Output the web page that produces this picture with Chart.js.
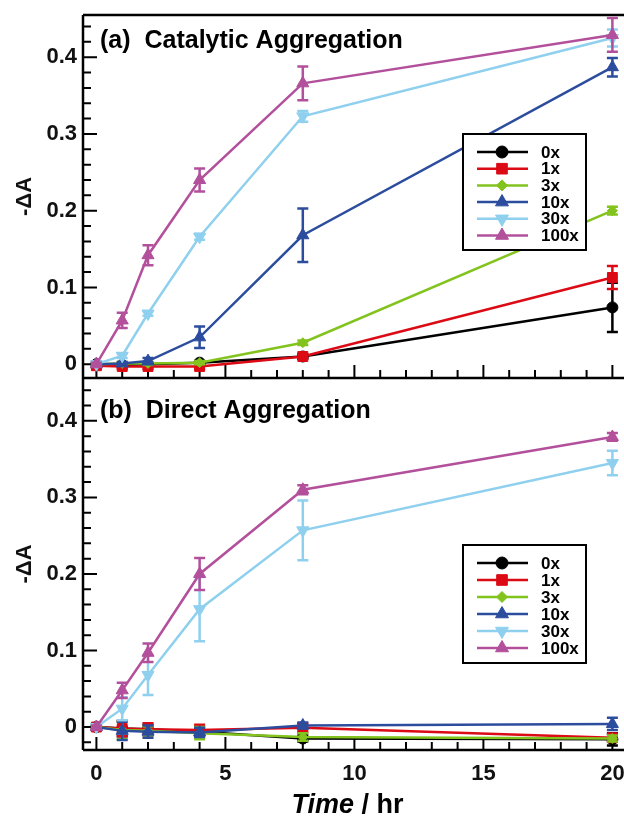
<!DOCTYPE html>
<html>
<head>
<meta charset="utf-8">
<script src="https://cdn.jsdelivr.net/npm/chart.js@4.4.0/dist/chart.umd.min.js"></script>
<style>
    html, body { margin: 0; padding: 0; background: #fff; overflow: hidden; }
    #wrap { position: relative; width: 624px; height: 817px; }
    #chartTop { position: absolute; left: 0; top: 0; }
    #chartBottom { position: absolute; left: 0; top: 378px; }
</style>
</head>
<body>
<div id="wrap">
    <canvas id="chartTop" width="624" height="380"></canvas>
    <canvas id="chartBottom" width="624" height="439"></canvas>
</div>
<script>
var hours = [0, 1, 2, 4, 8, 20];
var seriesNames = ['0x', '1x', '3x', '10x', '30x', '100x'];
var seriesColors = ['#000000', '#dc0a14', '#82c31e', '#2c4c9e', '#8fd0ee', '#b3509c'];
var seriesMarkers = ['circle', 'rect', 'rectRot', 'triangle', 'triangle', 'triangle'];
var markerRotation = [0, 0, 0, 0, 180, 0];
var markerRadius = [5.5, 7, 5, 7, 7, 7];

// (a) catalytic aggregation, -dA and error
var catalytic0x = [0, -0.001, 0, 0.002, 0.010, 0.074];
var catalytic1x = [-0.002, -0.003, -0.003, -0.003, 0.010, 0.113];
var catalytic3x = [0, 0.001, 0.001, 0.002, 0.028, 0.200];
var catalytic10x = [0, 0.001, 0.004, 0.035, 0.168, 0.387];
var catalytic30x = [0, 0.011, 0.066, 0.166, 0.323, 0.425];
var catalytic100x = [0, 0.057, 0.142, 0.240, 0.366, 0.429];

var catalyticErr0x = [0.002, 0.002, 0.002, 0.002, 0.003, 0.032];
var catalyticErr1x = [0.003, 0.003, 0.003, 0.003, 0.003, 0.015];
var catalyticErr3x = [0.002, 0.002, 0.002, 0.002, 0.003, 0.005];
var catalyticErr10x = [0.002, 0.002, 0.004, 0.014, 0.035, 0.012];
var catalyticErr30x = [0.002, 0.003, 0.003, 0.004, 0.007, 0.011];
var catalyticErr100x = [0.002, 0.010, 0.013, 0.015, 0.022, 0.022];

// (b) direct aggregation
var direct0x = [0, -0.002, -0.003, -0.006, -0.015, -0.016];
var direct1x = [0, -0.002, -0.003, -0.004, -0.001, -0.014];
var direct3x = [0, -0.004, -0.005, -0.008, -0.013, -0.015];
var direct10x = [0, -0.005, -0.006, -0.007, 0.002, 0.004];
var direct30x = [0, 0.024, 0.068, 0.154, 0.257, 0.345];
var direct100x = [0, 0.048, 0.097, 0.200, 0.310, 0.379];

var directErr0x = [0.002, 0.010, 0.006, 0.006, 0.004, 0.008];
var directErr1x = [0.003, 0.010, 0.008, 0.007, 0.006, 0.005];
var directErr3x = [0.002, 0.012, 0.006, 0.008, 0.005, 0.004];
var directErr10x = [0.002, 0.012, 0.008, 0.006, 0.004, 0.008];
var directErr30x = [0.002, 0.015, 0.026, 0.042, 0.039, 0.016];
var directErr100x = [0.002, 0.010, 0.012, 0.021, 0.006, 0.005];

var yTickLabels = [0, 0.1, 0.2, 0.3, 0.4];
var xTickLabels = [0, 5, 10, 15, 20];

var FONT = "'Liberation Sans', Arial, sans-serif";

function makeDatasets(values, errors) {
    return values.map(function (vals, i) {
        return {
            label: seriesNames[i],
            data: hours.map(function (h, j) { return { x: h, y: vals[j] }; }),
            errors: errors[i],
            borderColor: seriesColors[i],
            backgroundColor: seriesColors[i],
            borderWidth: 2.5,
            pointStyle: seriesMarkers[i],
            pointRotation: markerRotation[i],
            pointRadius: markerRadius[i],
            pointBorderWidth: 1,
            tension: 0,
            clip: 10,
            order: 6 - i
        };
    });
}

// error bars, drawn right after each dataset
var errorBars = {
    id: 'errorBars',
    afterDatasetDraw: function (chart, args) {
        var ds = chart.data.datasets[args.index];
        if (!ds.errors) return;
        var ctx = chart.ctx;
        var xs = chart.scales.x, ys = chart.scales.y;
        ctx.save();
        ctx.strokeStyle = ds.borderColor;
        ctx.lineWidth = 2.5;
        ds.data.forEach(function (p, i) {
            var e = ds.errors[i];
            if (!e) return;
            var px = xs.getPixelForValue(p.x);
            var top = ys.getPixelForValue(p.y + e);
            var bot = ys.getPixelForValue(p.y - e);
            ctx.beginPath();
            ctx.moveTo(px, top); ctx.lineTo(px, bot);
            ctx.moveTo(px - 5.5, top); ctx.lineTo(px + 5.5, top);
            ctx.moveTo(px - 5.5, bot); ctx.lineTo(px + 5.5, bot);
            ctx.stroke();
        });
        ctx.restore();
    }
};

// axis lines and inward ticks
var frameTicks = {
    id: 'frameTicks',
    beforeDatasetsDraw: function (chart, args, opts) {
        var ctx = chart.ctx, a = chart.chartArea;
        var xs = chart.scales.x, ys = chart.scales.y;
        ctx.save();
        ctx.strokeStyle = '#000';
        ctx.lineWidth = 2;
        ctx.beginPath();
        for (var v = Math.ceil(ys.min / 0.02 - 1e-6); v <= Math.floor(ys.max / 0.02 + 1e-6); v++) {
            var py = ys.getPixelForValue(v * 0.02);
            var len = (v % 5 === 0) ? 14 : 8;
            ctx.moveTo(a.left, py); ctx.lineTo(a.left + len, py);
        }
        for (var h = Math.ceil(xs.min); h <= Math.floor(xs.max); h++) {
            var px = xs.getPixelForValue(h);
            var l2 = (h % 5 === 0) ? 13 : 8;
            ctx.moveTo(px, a.bottom); ctx.lineTo(px, a.bottom - l2);
        }
        ctx.stroke();
        ctx.lineWidth = 2.5;
        ctx.beginPath();
        ctx.moveTo(a.left, a.top); ctx.lineTo(a.left, a.bottom);
        ctx.moveTo(a.left, a.bottom); ctx.lineTo(a.right, a.bottom);
        if (opts.topLine) {
            ctx.moveTo(a.left, a.top); ctx.lineTo(a.right, a.top);
        }
        ctx.stroke();
        ctx.restore();
    }
};

// boxed legend inside the plot
var boxLegend = {
    id: 'boxLegend',
    afterDatasetsDraw: function (chart, args, opts) {
        var ctx = chart.ctx, a = chart.chartArea;
        var x0 = a.left + opts.left, y0 = a.top + opts.top;
        var n = chart.data.datasets.length;
        ctx.save();
        ctx.fillStyle = '#fff';
        ctx.fillRect(x0, y0, opts.width, opts.height);
        ctx.strokeStyle = '#000';
        ctx.lineWidth = 2;
        ctx.strokeRect(x0, y0, opts.width, opts.height);
        ctx.font = 'bold 17px ' + FONT;
        ctx.textBaseline = 'middle';
        ctx.textAlign = 'left';
        for (var i = 0; i < n; i++) {
            var ds = chart.data.datasets[i];
            var ry = y0 + 18 + i * opts.rowGap;
            ctx.strokeStyle = ds.borderColor;
            ctx.fillStyle = ds.borderColor;
            ctx.lineWidth = 2.5;
            ctx.beginPath();
            ctx.moveTo(x0 + 14, ry); ctx.lineTo(x0 + 65, ry);
            ctx.stroke();
            ctx.lineWidth = 1;
            Chart.helpers.drawPoint(ctx, {
                pointStyle: ds.pointStyle,
                rotation: ds.pointRotation,
                radius: ds.pointRadius + 0.5,
                borderWidth: 1
            }, x0 + 39, ry);
            ctx.fillStyle = '#000';
            ctx.fillText(ds.label, x0 + 78, ry + 1);
        }
        ctx.restore();
    }
};

// panel caption and x axis title
var panelText = {
    id: 'panelText',
    afterDraw: function (chart, args, opts) {
        var ctx = chart.ctx, a = chart.chartArea;
        ctx.save();
        ctx.fillStyle = '#000';
        ctx.textBaseline = 'middle';
        ctx.textAlign = 'left';
        ctx.font = 'bold 25px ' + FONT;
        ctx.fillText(opts.caption, a.left + 17, a.top + opts.captionY);
        if (opts.xTitle) {
            ctx.font = 'italic bold 27px ' + FONT;
            var w1 = ctx.measureText('Time').width;
            ctx.font = 'bold 27px ' + FONT;
            var w2 = ctx.measureText(' / hr').width;
            var sx = (a.left + a.right) / 2 - (w1 + w2) / 2 - 6;
            var ty = a.bottom + 56;
            ctx.font = 'italic bold 27px ' + FONT;
            ctx.fillText('Time', sx, ty);
            ctx.font = 'bold 27px ' + FONT;
            ctx.fillText(' / hr', sx + w1, ty);
        }
        ctx.restore();
    }
};

function yAxis(min, max) {
    return {
        type: 'linear',
        min: min,
        max: max,
        afterBuildTicks: function (scale) {
            scale.ticks = yTickLabels.map(function (v) { return { value: v }; });
        },
        afterFit: function (scale) {
            scale.width = 83;
            scale.paddingTop = 0;
            scale.paddingBottom = 0;
        },
        grid: { display: false, drawTicks: false },
        border: { display: false },
        ticks: {
            padding: 6,
            color: '#111',
            font: { family: FONT, size: 22, weight: 'bold' },
            callback: function (v) { return String(v); }
        },
        title: {
            display: true,
            text: '-\u0394A',
            color: '#111',
            padding: { top: 12, bottom: 0 },
            font: { family: FONT, size: 22, weight: 'bold' }
        }
    };
}

function commonOptions() {
    return {
        responsive: false,
        maintainAspectRatio: false,
        devicePixelRatio: 1,
        animation: false,
        events: []
    };
}

var topOptions = commonOptions();
topOptions.layout = { autoPadding: false, padding: { top: 15, bottom: 2, left: 0, right: 0 } };
topOptions.scales = {
    x: { type: 'linear', min: -0.52, max: 20.45, display: false },
    y: yAxis(-0.018, 0.455)
};
topOptions.plugins = {
    legend: { display: false },
    tooltip: { enabled: false },
    frameTicks: { topLine: true },
    boxLegend: { left: 380, top: 119, width: 123, height: 116, rowGap: 16.7 },
    panelText: { caption: '(a)  Catalytic Aggregation', captionY: 26 }
};

var chartTop = new Chart(document.getElementById('chartTop').getContext('2d'), {
    type: 'line',
    data: {
        datasets: makeDatasets(
            [catalytic0x, catalytic1x, catalytic3x, catalytic10x, catalytic30x, catalytic100x],
            [catalyticErr0x, catalyticErr1x, catalyticErr3x, catalyticErr10x, catalyticErr30x, catalyticErr100x])
    },
    options: topOptions,
    plugins: [frameTicks, errorBars, boxLegend, panelText]
});

var bottomOptions = commonOptions();
bottomOptions.layout = { autoPadding: false, padding: { top: 0, bottom: 0, left: 0, right: 0 } };
bottomOptions.scales = {
    x: {
        type: 'linear',
        min: -0.52,
        max: 20.45,
        afterBuildTicks: function (scale) {
            scale.ticks = xTickLabels.map(function (v) { return { value: v }; });
        },
        afterFit: function (scale) {
            scale.height = 67;
            scale.paddingLeft = 0;
            scale.paddingRight = 0;
        },
        grid: { display: false, drawTicks: false },
        border: { display: false },
        ticks: {
            padding: 11,
            maxRotation: 0,
            color: '#111',
            font: { family: FONT, size: 22, weight: 'bold' }
        }
    },
    y: yAxis(-0.03, 0.456)
};
bottomOptions.plugins = {
    legend: { display: false },
    tooltip: { enabled: false },
    frameTicks: { topLine: false },
    boxLegend: { left: 380, top: 167, width: 123, height: 118, rowGap: 17 },
    panelText: { caption: '(b)  Direct Aggregation', captionY: 33, xTitle: true }
};

var chartBottom = new Chart(document.getElementById('chartBottom').getContext('2d'), {
    type: 'line',
    data: {
        datasets: makeDatasets(
            [direct0x, direct1x, direct3x, direct10x, direct30x, direct100x],
            [directErr0x, directErr1x, directErr3x, directErr10x, directErr30x, directErr100x])
    },
    options: bottomOptions,
    plugins: [frameTicks, errorBars, boxLegend, panelText]
});
</script>
</body>
</html>
